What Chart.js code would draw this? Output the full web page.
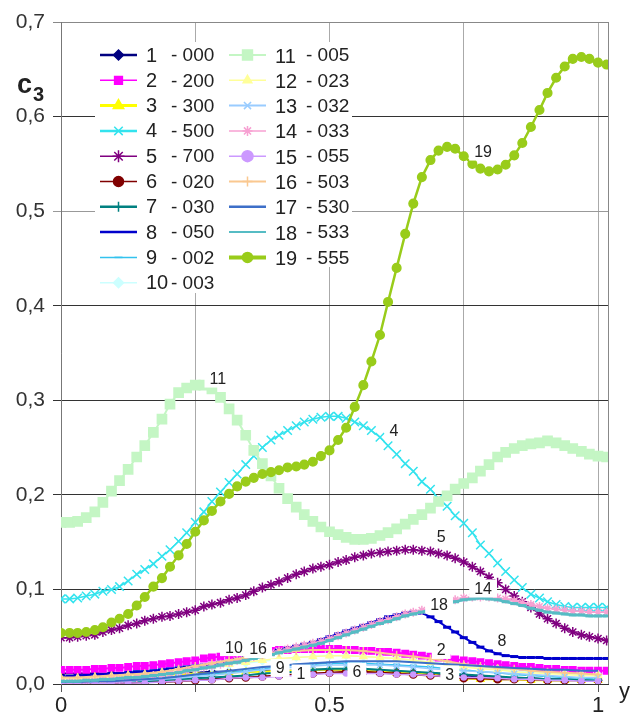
<!DOCTYPE html>
<html lang="en">
<head>
<meta charset="UTF-8">
<title>c3</title>
<script src="https://cdn.jsdelivr.net/npm/chart.js"></script>
<style>
    body { margin: 0; background: #fff; }
    canvas { display: block; }
</style>
</head>
<body>
<canvas id="chart" width="630" height="716"></canvas>
<script>
// x grids (fine = step 1/64, coarse = step 1/32)
const xFine = [0,.016,.031,.047,.063,.078,.094,.109,.125,.141,.156,.172,.188,.203,.219,.234,.25,.266,.281,.297,.313,.328,.344,.359,.375,.391,.406,.422,.438,.453,.469,.484,.5,.516,.531,.547,.563,.578,.594,.609,.625,.641,.656,.672,.688,.703,.719,.734,.75,.766,.781,.797,.813,.828,.844,.859,.875,.891,.906,.922,.938,.953,.969,.984,1,1.016];
const xCoarse = [0,.031,.063,.094,.125,.156,.188,.219,.25,.281,.313,.344,.375,.406,.438,.469,.5,.531,.563,.594,.625,.656,.688,.719,.75,.781,.813,.844,.875,.906,.938,.969,1];

const xTicks = [0, 0.25, 0.5, 0.75, 1];
const xTickLabels = ['0', '', '0.5', '', '1'];
const yTicks = [0, 0.1, 0.2, 0.3, 0.4, 0.5, 0.6, 0.7];

const seriesNames = ['1','2','3','4','5','6','7','8','9','10','11','12','13','14','15','16','17','18','19'];
const seriesCodes = ['000','200','300','500','700','020','030','050','002','003','005','023','032','033','055','503','530','533','555'];

// coarse series
const s1  = [.011,.011,.011,.011,.011,.011,.012,.012,.012,.013,.013,.013,.014,.014,.014,.015,.015,.015,.014,.013,.013,.012,.011,.010,.009,.008,.007,.006,.006,.005,.005,.004,.004];
const s3  = [.006,.006,.007,.007,.008,.009,.010,.010,.011,.011,.012,.013,.013,.014,.014,.015,.015,.015,.014,.013,.012,.011,.010,.008,.006,.005,.005,.005,.004,.004,.004,.004,.004];
const s6  = [.000,.000,.001,.001,.001,.002,.002,.003,.004,.005,.006,.007,.008,.009,.010,.011,.012,.013,.013,.012,.011,.010,.009,.008,.006,.006,.005,.005,.005,.004,.004,.004,.004];
const s7  = [.002,.002,.002,.003,.003,.003,.004,.005,.006,.007,.008,.009,.011,.012,.013,.015,.016,.016,.016,.015,.014,.013,.012,.011,.010,.009,.008,.007,.006,.005,.005,.004,.004];
const s9  = [.003,.003,.004,.004,.005,.006,.007,.008,.009,.011,.012,.014,.016,.018,.020,.021,.022,.022,.022,.021,.020,.019,.018,.016,.015,.013,.012,.010,.009,.008,.007,.006,.005];
const s10 = [.003,.004,.005,.006,.007,.008,.010,.012,.015,.017,.020,.022,.024,.026,.028,.029,.030,.030,.029,.028,.027,.025,.023,.021,.019,.017,.016,.014,.013,.012,.011,.010,.010];
const s12 = [.006,.006,.007,.008,.009,.010,.012,.014,.016,.019,.021,.023,.025,.027,.028,.029,.030,.030,.029,.028,.027,.025,.023,.020,.018,.016,.015,.013,.012,.011,.010,.009,.009];
const s13 = [.001,.001,.002,.002,.003,.004,.005,.006,.008,.009,.011,.013,.015,.016,.018,.019,.020,.020,.020,.020,.019,.018,.016,.015,.014,.013,.012,.011,.010,.009,.008,.007,.007];
const s15 = [.000,.000,.000,.001,.001,.001,.002,.003,.004,.004,.006,.007,.007,.008,.009,.010,.011,.011,.011,.011,.010,.010,.009,.008,.007,.007,.006,.005,.005,.004,.004,.003,.003];
const s16 = [.007,.007,.008,.009,.010,.011,.013,.016,.019,.022,.025,.028,.031,.033,.035,.036,.036,.036,.035,.033,.031,.029,.027,.024,.021,.019,.017,.016,.014,.013,.012,.011,.010];
const s17 = [.002,.002,.003,.003,.004,.005,.006,.008,.010,.012,.014,.016,.018,.019,.021,.022,.023,.024,.024,.024,.024,.023,.022,.021,.020,.019,.018,.017,.016,.015,.015,.014,.014];

// fine series
const s2  = [.015,.015,.015,.015,.016,.016,.017,.017,.018,.019, .019,.020,.021,.022,.023,.024,.025,.027,.028,.029, .030,.031,.032,.033,.034,.035,.036,.036,.037,.037, .037,.037,.037,.037,.036,.036,.035,.035,.034,.034, .033,.032,.031,.030,.029,.028,.027,.026,.025,.024, .023,.022,.021,.020,.019,.018,.018,.017,.016,.016, .015,.015,.014,.014,.014,.014];
const s4  = [.090,.090,.091,.093,.095,.098,.100,.103,.109,.116, .121,.127,.135,.142,.151,.160,.171,.182,.193,.203, .213,.222,.232,.241,.250,.258,.263,.268,.273,.277, .280,.282,.283,.283,.281,.277,.273,.268,.261,.252, .243,.233,.225,.214,.206,.196,.188,.178,.170,.160, .147,.138,.128,.119,.110,.102,.095,.091,.087,.084, .082,.081,.081,.081,.081,.081];
const s5  = [.049,.049,.050,.051,.052,.055,.057,.059,.062,.064, .067,.069,.071,.072,.074,.076,.078,.082,.084,.086, .089,.091,.094,.098,.102,.105,.108,.112,.116,.119, .122,.124,.126,.129,.131,.134,.136,.138,.139,.140, .141,.142,.142,.141,.140,.138,.136,.133,.129,.124, .119,.113,.107,.100,.093,.087,.081,.074,.069,.064, .059,.055,.052,.050,.048,.046];
const s8  = [.008,.008,.009,.009,.010,.010,.011,.011,.012,.013, .013,.014,.015,.016,.017,.018,.019,.020,.021,.023, .024,.026,.028,.030,.032,.034,.036,.038,.040,.042, .044,.047,.050,.053,.056,.059,.062,.065,.068,.071, .073,.075,.076,.075,.071,.066,.060,.055,.049,.044, .039,.035,.032,.030,.029,.028,.028,.028,.027,.027, .027,.027,.027,.027,.027,.027];
const s11 = [.171,.171,.172,.176,.182,.192,.204,.215,.227,.240, .252,.266,.280,.296,.308,.313,.316,.316,.312,.303, .291,.279,.263,.247,.233,.220,.207,.196,.187,.179, .172,.166,.161,.158,.155,.153,.153,.154,.157,.160, .164,.169,.174,.179,.186,.193,.199,.206,.212,.218, .225,.232,.240,.245,.249,.252,.254,.255,.257,.255, .252,.249,.246,.243,.241,.240];
const s14 = [.002,.002,.002,.003,.003,.004,.005,.005,.006,.007, .008,.009,.010,.011,.013,.014,.016,.018,.019,.021, .023,.025,.027,.029,.031,.033,.035,.037,.039,.041, .043,.045,.048,.051,.054,.057,.060,.063,.066,.068, .071,.074,.076,.078,.081,.084,.087,.089,.091,.092, .092,.092,.091,.090,.088,.086,.084,.082,.080,.079, .078,.077,.077,.076,.076,.076];
const s18 = [.003,.003,.003,.004,.004,.005,.005,.006,.007,.007, .008,.009,.010,.011,.012,.014,.015,.017,.018,.020, .022,.023,.025,.027,.029,.031,.033,.035,.037,.039, .041,.043,.046,.049,.052,.055,.058,.061,.064,.066, .069,.072,.074,.076,.079,.082,.085,.087,.089,.090, .091,.090,.089,.087,.085,.083,.080,.078,.076,.075, .074,.073,.073,.072,.072,.072];
const s19 = [.054,.054,.054,.055,.057,.060,.065,.069,.074,.083, .092,.103,.112,.124,.136,.148,.161,.173,.183,.193, .201,.209,.214,.218,.222,.224,.226,.229,.230,.232, .235,.241,.247,.258,.271,.293,.316,.341,.369,.404, .440,.476,.508,.536,.554,.564,.568,.566,.558,.550, .545,.542,.544,.549,.559,.572,.589,.607,.625,.641, .653,.661,.663,.661,.657,.655];

const seriesValues = [s1, s2, s3, s4, s5, s6, s7, s8, s9, s10, s11, s12, s13, s14, s15, s16, s17, s18, s19];
const seriesX = [xCoarse, xFine, xCoarse, xFine, xFine, xCoarse, xCoarse, xFine, xCoarse, xCoarse, xFine, xCoarse, xCoarse, xFine, xCoarse, xCoarse, xCoarse, xFine, xFine];

// in-plot data labels: text, x, y (data units)
const labelTexts = ['11', '4', '5', '19', '14', '18', '8', '2', '3', '6', '1', '9', '10', '16'];
const labelX = [0.292, 0.620, 0.708, 0.786, 0.786, 0.704, 0.821, 0.708, 0.724, 0.551, 0.447, 0.408, 0.322, 0.367];
const labelY = [0.323, 0.268, 0.156, 0.563, 0.101, 0.084, 0.046, 0.036, 0.010, 0.013, 0.011, 0.017, 0.039, 0.037];

// styles
const colors = ['#000080','#FF00FF','#FFFF00','#33E3EE','#800080','#800000','#008080','#0000CC','#33C2EE','#CCFFFF','#C4F6C4','#FFFF99','#99CCFF','#F7A1D2','#CC99FF','#FAC890','#3D6FC8','#56BCC4','#99CC1A'];
const pointStyles = ['rectRot','rect','triangle','crossRot','star','circle','cross','line','line','rectRot','rect','triangle','crossRot','star','circle','cross',false,'line','circle'];
const pointRadii = [3.5,4.5,4,6,5,3.5,4,4,3.5,3.5,6.5,4,4,4.5,2.5,4,0,4,4.3];
const lineWidths = [2,2,2,1.5,1.5,2,2,2,1.5,1.5,2,1.5,1.5,1.5,1.5,2,2,2.5,2.5];
const legendRadii = [5,5.5,6,6,6,5,5,4,4,5,7,5,5,5,5.5,5,0,4,5];
const legendWidths = [2.5,1.5,3,2.5,1.5,1.5,2.5,2.5,1.5,1.5,2,1.5,2,1.5,1.5,2,2.5,2,4];

const FONT = "'Liberation Sans', Arial, sans-serif";
Chart.defaults.font.family = FONT;

const datasets = seriesValues.map((vals, k) => ({
    label: seriesNames[k],
    data: vals.map((v, i) => ({ x: seriesX[k][i], y: v })),
    borderColor: colors[k],
    backgroundColor: colors[k],
    pointBackgroundColor: colors[k],
    pointBorderColor: colors[k],
    pointStyle: pointStyles[k],
    pointRadius: pointRadii[k],
    pointBorderWidth: pointStyles[k] === 'line' ? 3 : 1.5,
    borderWidth: lineWidths[k],
    tension: 0,
    order: 20 - k
}));

function marker(ctx, style, r, x, y) {
    if (!style || r <= 0) return;
    if (Chart.helpers && Chart.helpers.drawPoint) {
        Chart.helpers.drawPoint(ctx, { pointStyle: style, radius: r, borderWidth: style === 'line' ? 3 : 1.5, rotation: 0 }, x, y);
    } else {
        ctx.beginPath();
        ctx.arc(x, y, r, 0, Math.PI * 2);
        ctx.fill();
    }
}

const extras = {
    id: 'extras',
    afterDatasetsDraw(chart) {
        const ctx = chart.ctx;
        const xs = chart.scales.x, ys = chart.scales.y;
        const a = chart.chartArea;
        ctx.save();
        // right border
        ctx.strokeStyle = '#888';
        ctx.lineWidth = 1;
        ctx.beginPath();
        ctx.moveTo(a.right + 0.5, a.top);
        ctx.lineTo(a.right + 0.5, a.bottom);
        ctx.stroke();
        // data labels
        ctx.font = '16px ' + FONT;
        ctx.textAlign = 'center';
        ctx.textBaseline = 'middle';
        labelTexts.forEach((t, i) => {
            const px = xs.getPixelForValue(labelX[i]);
            const py = ys.getPixelForValue(labelY[i]);
            const w = ctx.measureText(t).width + 10;
            ctx.fillStyle = '#fff';
            ctx.fillRect(px - w / 2, py - 9, w, 18);
            ctx.fillStyle = '#222';
            ctx.fillText(t, px, py + 1);
        });
        ctx.restore();
    },
    afterDraw(chart) {
        const ctx = chart.ctx;
        ctx.save();
        // legend
        ctx.fillStyle = '#fff';
        ctx.fillRect(95, 42, 257, 225);
        ctx.fillRect(95, 267, 120, 26);
        seriesNames.forEach((name, k) => {
            const col = k < 10 ? 0 : 1;
            const row = k < 10 ? k : k - 10;
            const y = 55 + row * 25.3;
            const x1 = col ? 229 : 100, x2 = col ? 266 : 137;
            ctx.strokeStyle = colors[k];
            ctx.fillStyle = colors[k];
            ctx.lineWidth = legendWidths[k];
            ctx.beginPath();
            ctx.moveTo(x1, y);
            ctx.lineTo(x2, y);
            ctx.stroke();
            ctx.lineWidth = 1.5;
            marker(ctx, pointStyles[k], legendRadii[k], (x1 + x2) / 2, y);
            ctx.fillStyle = '#222';
            ctx.textAlign = 'left';
            ctx.textBaseline = 'middle';
            ctx.font = '20px ' + FONT;
            ctx.fillText(name, col ? 275 : 146, y + (col ? 2 : 1));
            ctx.font = '19px ' + FONT;
            ctx.fillText('- ' + seriesCodes[k], col ? 306 : 171, y + 1);
        });
        // axis titles
        ctx.fillStyle = '#222';
        ctx.textAlign = 'left';
        ctx.textBaseline = 'alphabetic';
        ctx.font = 'bold 27px ' + FONT;
        ctx.fillText('c', 17, 93);
        ctx.font = 'bold 20px ' + FONT;
        ctx.fillText('3', 33, 101);
        ctx.font = '22px ' + FONT;
        ctx.fillText('y', 619, 698);
        ctx.restore();
    }
};

new Chart(document.getElementById('chart'), {
    type: 'line',
    data: { datasets },
    options: {
        responsive: false,
        animation: false,
        layout: { padding: { top: 22, right: 22, left: 0, bottom: 0 } },
        plugins: { legend: { display: false }, tooltip: { enabled: false } },
        scales: {
            x: {
                type: 'linear',
                min: 0,
                max: 1.0186,
                afterBuildTicks: s => { s.ticks = xTicks.map(v => ({ value: v })); },
                afterFit: s => { s.height = 32; },
                grid: { color: '#aaa', tickColor: '#555', tickLength: 8 },
                border: { color: '#333' },
                ticks: {
                    callback: (v, i) => xTickLabels[i],
                    font: { size: 22 },
                    color: '#222',
                    padding: 1,
                    maxRotation: 0,
                    autoSkip: false
                }
            },
            y: {
                min: 0,
                max: 0.7,
                afterBuildTicks: s => { s.ticks = yTicks.map(v => ({ value: v })); },
                afterFit: s => { s.width = 61; },
                grid: {
                    color: c => {
                        const v = c.tick ? c.tick.value : 0;
                        if (Math.abs(v - 0.5) < 1e-6) return '#999';
                        if (v > 0.65) return '#888';
                        return '#333';
                    },
                    tickLength: 8
                },
                border: { color: '#777' },
                ticks: {
                    callback: v => v.toFixed(1).replace('.', ','),
                    font: { size: 21 },
                    color: '#333',
                    padding: 8
                }
            }
        }
    },
    plugins: [extras]
});
</script>
</body>
</html>
